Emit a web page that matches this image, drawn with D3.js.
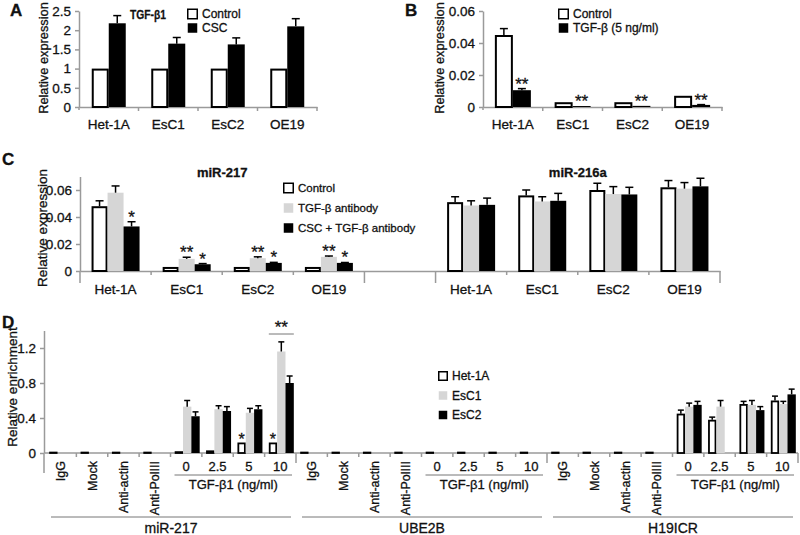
<!DOCTYPE html>
<html><head><meta charset="utf-8">
<script src="https://cdn.jsdelivr.net/npm/d3@7"></script>
<style>
body{margin:0;background:#fff;}
text{font-family:"Liberation Sans",Arial,sans-serif;fill:#111;stroke:#111;stroke-width:0.3px;}
</style></head><body>
<svg id="chart" width="800" height="535"></svg>
<script>
// ---------- Panel A data ----------
const aCats = ["Het-1A","EsC1","EsC2","OE19"];
const aControl = [1,1,1,1];
const aCSC = [2.18,1.65,1.63,2.1];
const aCSCErr = [0.2,0.16,0.17,0.2];
const aTicks = [0,0.5,1,1.5,2,2.5];
const aTickLabels = ["0","0.5","1","1.5","2","2.5"];
const aLegend = ["Control","CSC"];

// ---------- Panel B data ----------
const bCats = ["Het-1A","EsC1","EsC2","OE19"];
const bControl = [0.045,0.003,0.003,0.007];
const bControlErr = [0.004,0,0,0];
const bTGF = [0.0105,0.0006,0.0007,0.0013];
const bTGFErr = [0.001,0,0,0.0002];
const bStars = ["**","**","**","**"];
const bTicks = [0,0.02,0.04,0.06];
const bTickLabels = ["0","0.02","0.04","0.06"];
const bLegend = ["Control","TGF-β (5 ng/ml)"];

// ---------- Panel C data ----------
const cCats = ["Het-1A","EsC1","EsC2","OE19","","Het-1A","EsC1","EsC2","OE19"];
const cTitles = ["miR-217","miR-216a"];
const cControl = [0.048,0.003,0.003,0.003,null,0.051,0.056,0.060,0.062];
const cControlErr = [0.004,0,0,0,null,0.004,0.004,0.005,0.005];
const cAb = [0.058,0.009,0.0095,0.0105,null,0.0485,0.0515,0.057,0.061];
const cAbErr = [0.005,0.0012,0.001,0.0006,null,0.0035,0.0035,0.0055,0.0045];
const cCSC = [0.033,0.005,0.006,0.006,null,0.049,0.052,0.0567,0.0627];
const cCSCErr = [0.0035,0.0005,0.0004,0.0003,null,0.005,0.0055,0.0053,0.006];
const cAbStars = ["","**","**","**","","","","",""];
const cCSCStars = ["*","*","*","*","","","","",""];
const cTicks = [0,0.02,0.04,0.06];
const cTickLabels = ["0","0.02","0.04","0.06"];
const cLegend = ["Control","TGF-β antibody","CSC + TGF-β antibody"];

// ---------- Panel D data ----------
const dGroups = ["miR-217","UBE2B","H19ICR"];
const dCats = ["IgG","Mock","Anti-actin","Anti-PolIII","0","2.5","5","10"];
const dHet = [[0.01,0.01,0.01,0.01,0.02,0.03,0.12,0.12],
              [0.01,0.01,0.01,0.01,0.01,0.01,0.01,0.01],
              [0.01,0.01,0.01,0.01,0.45,0.38,0.56,0.6]];
const dHetErr = [[0,0,0,0,0,0,0,0],[0,0,0,0,0,0,0,0],[0,0,0,0,0.04,0.03,0.03,0.05]];
const dEsC1 = [[0,0,0,0,0.53,0.5,0.46,1.16],[0,0,0,0,0,0,0,0],[0,0,0,0,0.53,0.53,0.55,0.56]];
const dEsC1Err = [[0,0,0,0,0.07,0.04,0.05,0.11],[0,0,0,0,0,0,0,0],[0,0,0,0,0.04,0.07,0.05,0.03]];
const dEsC2 = [[0,0,0,0,0.42,0.48,0.5,0.8],[0,0,0,0,0,0,0,0],[0,0,0,0,0.55,0,0.49,0.67]];
const dEsC2Err = [[0,0,0,0,0.05,0.05,0.04,0.08],[0,0,0,0,0,0,0,0],[0,0,0,0,0.04,0,0.04,0.06]];
const dHetStars = [["","","","","","","*","*"],["","","","","","","",""],["","","","","","","",""]];
const dTicks = [0,0.4,0.8,1.2];
const dTickLabels = ["0","0.4","0.8","1.2"];
const dDoseLabel = "TGF-β1 (ng/ml)";
const dLegend = ["Het-1A","EsC1","EsC2"];

// ---------- styling ----------
const WHITE = {fill:"#fff", stroke:"#000", sw:2};
const GRAY = {fill:"#d6d6d6", stroke:"none", sw:0};
const BLACK = {fill:"#000", stroke:"none", sw:0};
const AXIS = "#9a9a9a";
const FONT = "Liberation Sans, Arial, sans-serif";

const svg = d3.select("#chart");
svg.append("rect").attr("width",800).attr("height",535).attr("fill","#fff");

function yAxisDraw(g, y, ticks, labels, x, fs, ext){
  const ax = d3.axisLeft(y).tickValues(ticks).tickFormat((d,i)=>labels[i]).tickSize(4).tickSizeOuter(0).tickPadding(4);
  const gg = g.append("g").attr("transform",`translate(${x},0)`).call(ax);
  gg.select(".domain").attr("stroke",AXIS).attr("stroke-width",1.5);
  gg.selectAll(".tick line").attr("stroke",AXIS).attr("stroke-width",1.5);
  gg.selectAll(".tick text").attr("font-size",fs).attr("fill","#111").style("font-family",FONT);
  g.append("line").attr("x1",x).attr("x2",x).attr("y1",y(0)).attr("y2",y(0)+ext).attr("stroke",AXIS).attr("stroke-width",1.5);
}

function drawBar(g, x, w, y, v, err, st, cap){
  if(v==null) return;
  const h = y(0)-y(v);
  if(st.sw>0){
    g.append("rect").attr("x",x+st.sw/2).attr("width",w-st.sw)
      .attr("y",y(v)+Math.min(st.sw/2,h/2)).attr("height",Math.max(0.01,h-Math.min(st.sw/2,h/2)))
      .attr("fill",st.fill).attr("stroke",st.stroke).attr("stroke-width",st.sw);
  } else {
    g.append("rect").attr("x",x).attr("width",w).attr("y",y(v)).attr("height",h).attr("fill",st.fill);
  }
  if(err>0){
    const cx = x+w/2;
    g.append("line").attr("x1",cx).attr("x2",cx).attr("y1",y(v)).attr("y2",y(v+err)).attr("stroke","#000").attr("stroke-width",1.5);
    g.append("line").attr("x1",cx-cap/2).attr("x2",cx+cap/2).attr("y1",y(v+err)).attr("y2",y(v+err)).attr("stroke","#000").attr("stroke-width",1.5);
  }
}

function star(g, x, yv, s, fs){
  if(!s) return;
  g.append("text").attr("x",x).attr("y",yv).attr("text-anchor","middle").attr("font-size",fs||16).text(s);
}

function legend(g, x, y0, dy, items, styles, fs, sz){
  items.forEach((t,i)=>{
    const st = styles[i];
    g.append("rect").attr("x",x+0.75).attr("y",y0+i*dy-sz/2+0.75).attr("width",sz-1.5).attr("height",sz-1.5)
      .attr("fill",st.fill).attr("stroke",st.stroke==="none"?"none":"#000").attr("stroke-width",1.5);
    g.append("text").attr("x",x+sz+4).attr("y",y0+i*dy+fs*0.36).attr("font-size",fs).text(t);
  });
}

function panelLabel(t,x,y){
  svg.append("text").attr("x",x).attr("y",y).attr("font-size",17).attr("font-weight","bold").text(t);
}
function yTitle(t,x,y,fs){
  svg.append("text").attr("transform",`translate(${x},${y}) rotate(-90)`).attr("text-anchor","middle").attr("font-size",fs).text(t);
}

// generic grouped bar panel (A, B, C)
function barPanel(o){
  const g = svg.append("g");
  const x = d3.scaleBand().domain(d3.range(o.cats.length)).range([o.left,o.right]);
  const y = d3.scaleLinear().domain([0,o.max]).range([o.base,o.top]);
  const bw = x.bandwidth();
  const xi = d3.scaleBand().domain(d3.range(o.series.length)).range([(bw-o.gw)/2,(bw+o.gw)/2]);
  const xa = d3.axisBottom(x).tickFormat(i=>o.cats[i]).tickSize(0).tickPadding(o.labPad);
  const gx = g.append("g").attr("transform",`translate(0,${o.base})`).call(xa);
  gx.select(".domain").attr("stroke",AXIS).attr("stroke-width",1.5);
  gx.selectAll(".tick text").attr("font-size",o.labFs).attr("fill","#111").style("font-family",FONT);
  d3.range(1,o.cats.length+1).forEach(i=>{
    const xx = i<o.cats.length ? x(i) : o.right;
    const long = o.longTicks && o.longTicks.includes(i);
    g.append("line").attr("x1",xx).attr("x2",xx).attr("y1",o.base).attr("y2",o.base+(long?o.ext:4)).attr("stroke",AXIS).attr("stroke-width",1.5);
  });
  yAxisDraw(g, y, o.ticks, o.tickLabels, o.left, o.tickFs, o.ext);
  o.series.forEach((s,si)=>{
    o.cats.forEach((c,ci)=>{
      drawBar(g, x(ci)+xi(si), xi.bandwidth(), y, s.values[ci], s.errs?s.errs[ci]:0, s.style, o.cap);
      if(s.stars && s.stars[ci]){
        const top = s.values[ci] + (s.errs?s.errs[ci]:0);
        star(g, x(ci)+xi(si)+xi.bandwidth()/2, y(top)+1, s.stars[ci], 17);
      }
    });
  });
  return {g,x,y};
}

// ---------- Panel A ----------
panelLabel("A",10,16);
barPanel({cats:aCats,left:79,right:317,base:107,top:11,max:2.5,gw:34,
  ticks:aTicks,tickLabels:aTickLabels,tickFs:13.5,labFs:13.5,labPad:12,ext:3,cap:8,
  series:[{values:aControl,style:WHITE},{values:aCSC,errs:aCSCErr,style:BLACK}]});
yTitle("Relative expression",48,58,12.8);
svg.append("text").attr("x",130).attr("y",19).attr("font-size",13.5).attr("font-weight","bold")
  .attr("textLength",36).attr("lengthAdjust","spacingAndGlyphs").text("TGF-β1");
legend(svg,187,14,14,aLegend,[WHITE,BLACK],12,11);

// ---------- Panel B ----------
panelLabel("B",405,16);
barPanel({cats:bCats,left:483,right:722,base:107,top:11,max:0.06,gw:36,
  ticks:bTicks,tickLabels:bTickLabels,tickFs:13.5,labFs:13.5,labPad:12,ext:3,cap:8,
  series:[{values:bControl,errs:bControlErr,style:WHITE},{values:bTGF,errs:bTGFErr,stars:bStars,style:BLACK}]});
yTitle("Relative expression",444,58,12.8);
legend(svg,558,14,14,bLegend,[WHITE,BLACK],12,11);

// ---------- Panel C ----------
panelLabel("C",2,165);
const pc = barPanel({cats:cCats,left:80,right:720,base:271,top:176.5,max:0.07,gw:48,
  ticks:cTicks,tickLabels:cTickLabels,tickFs:13.5,labFs:13.5,labPad:13,ext:12,cap:8,longTicks:[4,5,9],
  series:[{values:cControl,errs:cControlErr,style:WHITE},{values:cAb,errs:cAbErr,stars:cAbStars,style:GRAY},{values:cCSC,errs:cCSCErr,stars:cCSCStars,style:BLACK}]});
yTitle("Relative expression",47,228,13.5);
svg.append("text").attr("x",(pc.x(0)+pc.x(3)+pc.x.bandwidth())/2).attr("y",177).attr("text-anchor","middle").attr("font-size",13).attr("font-weight","bold").text(cTitles[0]);
svg.append("text").attr("x",(pc.x(5)+pc.x(8)+pc.x.bandwidth())/2).attr("y",177).attr("text-anchor","middle").attr("font-size",13).attr("font-weight","bold").text(cTitles[1]);
legend(svg,283,188,20,cLegend,[WHITE,GRAY,BLACK],11.5,11);

// ---------- Panel D ----------
panelLabel("D",2,328);
(function(){
  const g = svg.append("g");
  const left=45, right=798, base=453;
  const y = d3.scaleLinear().domain([0,1.4]).range([base,330.5]);
  const xg = d3.scaleBand().domain(d3.range(dGroups.length)).range([left,right]);
  const xc = d3.scaleBand().domain(d3.range(dCats.length)).range([0,xg.bandwidth()]);
  const cw = xc.bandwidth(), gw = 25;
  const xb = d3.scaleBand().domain([0,1,2]).range([(cw-gw)/2+1,(cw+gw)/2+1]);
  g.append("line").attr("x1",left).attr("x2",right).attr("y1",base).attr("y2",base).attr("stroke",AXIS).attr("stroke-width",1.5);
  dGroups.forEach((gn,gi)=>{
    const gx0 = xg(gi);
    dCats.forEach((c,ci)=>{
      const bx = gx0+xc(ci)+cw;
      const isEnd = ci===dCats.length-1;
      g.append("line").attr("x1",bx).attr("x2",bx).attr("y1",base).attr("y2",base+(isEnd?10:4)).attr("stroke",AXIS).attr("stroke-width",1.5);
      const cx = gx0+xc(ci)+cw/2;
      if(ci<4){
        g.append("text").attr("transform",`translate(${cx+4.5},461) rotate(-90)`).attr("text-anchor","end").attr("font-size",12.5).text(c);
      } else {
        g.append("text").attr("x",cx).attr("y",471).attr("text-anchor","middle").attr("font-size",13).text(c);
      }
      const series = [[dHet,dHetErr,WHITE],[dEsC1,dEsC1Err,GRAY],[dEsC2,dEsC2Err,BLACK]];
      series.forEach((s,si)=>{
        const v = s[0][gi][ci], e = s[1][gi][ci];
        if(v>0) drawBar(g, gx0+xc(ci)+xb(si), xb.bandwidth(), y, v, e, si===0?{fill:"#fff",stroke:"#000",sw:1.8}:s[2], 6);
      });
      if(dHetStars[gi][ci]) star(g, gx0+xc(ci)+xb(0)+xb.bandwidth()/2, y(dHet[gi][ci])+2, dHetStars[gi][ci], 16);
    });
    const d0 = gx0+xc(4)+4, d1 = gx0+xc(7)+cw-4;
    g.append("line").attr("x1",d0).attr("x2",d1).attr("y1",475).attr("y2",475).attr("stroke","#777").attr("stroke-width",1);
    g.append("text").attr("x",(d0+d1)/2).attr("y",489).attr("text-anchor","middle").attr("font-size",13).text(dDoseLabel);
    const g0 = gx0+6, g1 = gx0+xg.bandwidth()-5;
    g.append("line").attr("x1",g0).attr("x2",g1).attr("y1",517).attr("y2",517).attr("stroke","#777").attr("stroke-width",1);
    g.append("text").attr("x",(g0+g1)/2).attr("y",533).attr("text-anchor","middle").attr("font-size",14).text(gn);
  });
  const bxL = xg(0)+xc(7)+xb(0), bxR = xg(0)+xc(7)+xb(2)+xb.bandwidth();
  g.append("line").attr("x1",bxL).attr("x2",bxR).attr("y1",334).attr("y2",334).attr("stroke","#777").attr("stroke-width",1);
  star(g,(bxL+bxR)/2,333,"**",17);
  yAxisDraw(g, y, dTicks, dTickLabels, left-1, 13.5, 20);
  yTitle("Relative enrichment",17,387,13.5);
  legend(svg,438,376,19.5,dLegend,[WHITE,GRAY,BLACK],12,10);
})();
</script>
</body></html>
